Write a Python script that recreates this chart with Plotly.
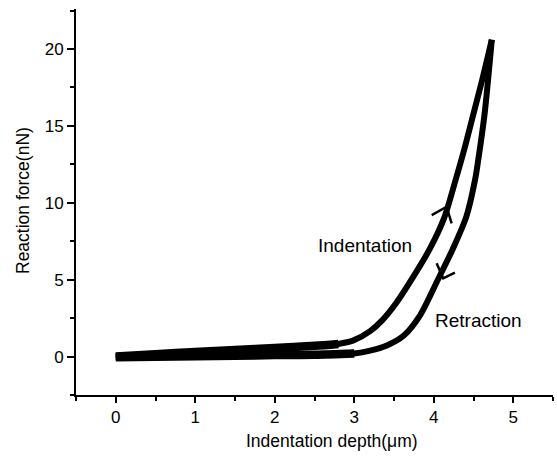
import plotly.graph_objects as go

# Loading (indentation) branch: depth (um) -> force (nN)
load_x = [0.0, 0.5, 1.0, 1.5, 2.0, 2.5, 2.8, 2.99, 3.2, 3.35, 3.53, 3.72, 3.95, 4.13, 4.27, 4.38, 4.49, 4.61, 4.73]
load_y = [0.0, 0.15, 0.3, 0.42, 0.56, 0.70, 0.82, 1.05, 1.65, 2.35, 3.5, 5.0, 7.0, 9.0, 11.4, 13.4, 15.6, 18.0, 20.6]

# Retraction branch
ret_x = [4.73, 4.64, 4.56, 4.52, 4.41, 4.24, 4.05, 3.83, 3.62, 3.41, 3.2, 3.0, 2.5, 2.0, 1.5, 1.0, 0.5, 0.0]
ret_y = [20.6, 15.8, 12.8, 11.5, 9.1, 7.0, 4.98, 2.7, 1.35, 0.72, 0.38, 0.2, 0.12, 0.1, 0.05, 0.02, -0.02, -0.05]

x_ticks = [0, 1, 2, 3, 4, 5]
y_ticks = [0, 5, 10, 15, 20]

FONT = "Arial, Liberation Sans, sans-serif"

fig = go.Figure()
line_main = dict(color="black", width=6, shape="spline", smoothing=0.8)
line_base = dict(color="black", width=8.5, shape="spline", smoothing=0.8)
fig.add_trace(go.Scatter(x=load_x, y=load_y, mode="lines", line=line_main, showlegend=False))
fig.add_trace(go.Scatter(x=ret_x, y=ret_y, mode="lines", line=line_main, showlegend=False))
# noisy baseline looks thicker
nb = 7
fig.add_trace(go.Scatter(x=load_x[:nb], y=load_y[:nb], mode="lines", line=line_base, showlegend=False))
nr = 11
fig.add_trace(go.Scatter(x=ret_x[nr:], y=ret_y[nr:], mode="lines", line=line_base, showlegend=False))

# chevron arrows
arrow_style = dict(color="black", width=2.5)
fig.add_shape(type="path", xref="x", yref="y",
              path="M 3.974 9.20 L 4.162 9.74 L 4.225 8.66", line=arrow_style)
fig.add_shape(type="path", xref="x", yref="y",
              path="M 4.036 6.06 L 4.119 5.09 L 4.266 5.45", line=arrow_style)

fig.add_annotation(x=3.14, y=7.25, text="Indentation", showarrow=False,
                   xanchor="center", yanchor="middle",
                   font=dict(family=FONT, size=19, color="black"))
fig.add_annotation(x=4.56, y=2.35, text="Retraction", showarrow=False,
                   xanchor="center", yanchor="middle",
                   font=dict(family=FONT, size=19, color="black"))

# axis titles as annotations (pixel-matched)
fig.add_annotation(xref="paper", yref="paper", x=(332 - 76) / 477, y=-(441 - 395) / 386,
                   xanchor="center", yanchor="middle",
                   text="Indentation depth(μm)", showarrow=False,
                   font=dict(family=FONT, size=17.5, color="black"))
fig.add_annotation(xref="paper", yref="paper", x=-(76 - 23) / 477, y=(395 - 201) / 386,
                   xanchor="center", yanchor="middle",
                   text="Reaction force(nN)", showarrow=False, textangle=-90,
                   font=dict(family=FONT, size=17.5, color="black"))

fig.update_layout(
    width=557, height=461,
    margin=dict(l=76, r=4, t=9, b=66),
    plot_bgcolor="white", paper_bgcolor="white",
    font=dict(family=FONT, size=17, color="black"),
)
fig.update_xaxes(range=[-0.5, 5.5], tickvals=x_ticks, ticktext=[str(v) for v in x_ticks],
                 showgrid=False, zeroline=False, showline=True, linecolor="black", linewidth=2,
                 ticks="outside", ticklen=6, tickwidth=2, tickcolor="black",
                 minor=dict(dtick=0.5, tick0=0, ticks="outside", ticklen=3.5, tickwidth=2, tickcolor="black"))
fig.update_yaxes(range=[-2.5, 22.6], tickvals=y_ticks, ticktext=[str(v) for v in y_ticks],
                 showgrid=False, zeroline=False, showline=True, linecolor="black", linewidth=2,
                 ticks="outside", ticklen=7, tickwidth=2, tickcolor="black",
                 minor=dict(dtick=2.5, tick0=0, ticks="outside", ticklen=4, tickwidth=2, tickcolor="black"))

fig.write_html("out.html", config={"displayModeBar": False},
               post_script="document.body.style.margin='0';")
